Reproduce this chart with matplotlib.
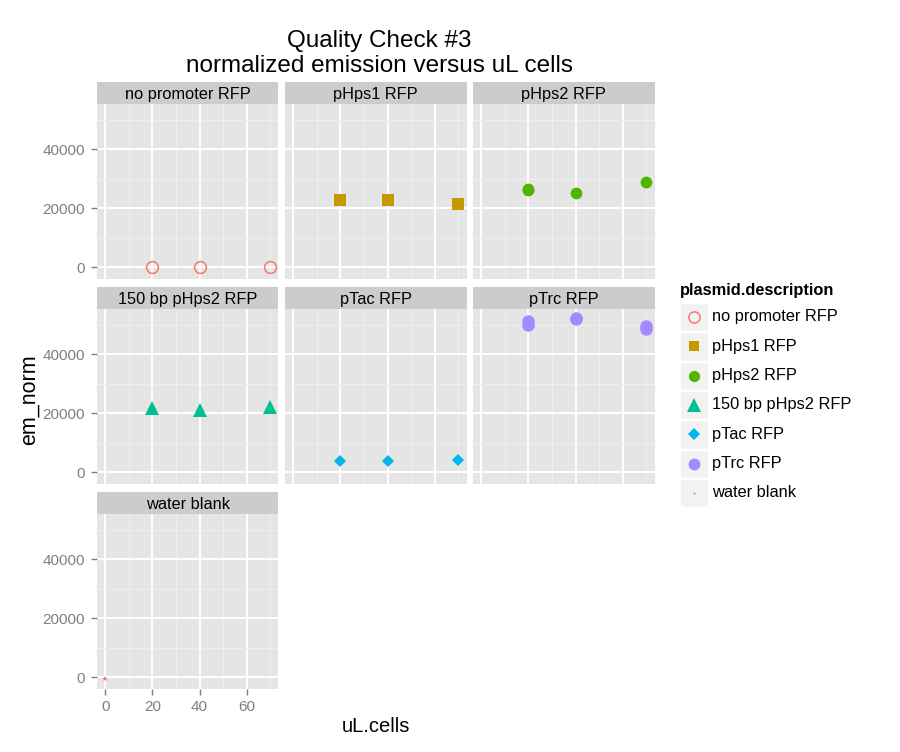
import matplotlib
matplotlib.use("Agg")
import matplotlib.pyplot as plt
from matplotlib.patches import Rectangle

plt.rcParams['font.family'] = ['Liberation Sans', 'DejaVu Sans']

# data
panels = ["no promoter RFP", "pHps1 RFP", "pHps2 RFP", "150 bp pHps2 RFP",
          "pTac RFP", "pTrc RFP", "water blank"]
colors = ["#F8766D", "#C49A00", "#53B400", "#00C094", "#00B6EB", "#A58AFF", "#FB61D7"]
markers = ["o", "s", "o", "^", "D", "o", "*"]
filled = [False, True, True, True, True, True, True]
msizes = [8.5, 8, 8.5, 10, 6.5, 9, 4]

ul_cells = {
    "no promoter RFP": [20, 40, 70],
    "pHps1 RFP": [20, 40, 70],
    "pHps2 RFP": [20, 20, 40, 70],
    "150 bp pHps2 RFP": [20, 40, 70],
    "pTac RFP": [20, 40, 70],
    "pTrc RFP": [20, 20, 40, 40, 70, 70],
    "water blank": [0],
}
em_norm = {
    "no promoter RFP": [-100, -100, -50],
    "pHps1 RFP": [22700, 22800, 21400],
    "pHps2 RFP": [26000, 26600, 25100, 28900],
    "150 bp pHps2 RFP": [21600, 21200, 22200],
    "pTac RFP": [3700, 3900, 4100],
    "pTrc RFP": [49800, 51200, 51700, 52300, 48400, 49600],
    "water blank": [-800],
}

x_ticks = [0, 20, 40, 60]
y_ticks = [0, 20000, 40000]
x_lim = (-3.5, 73.5)
y_lim = (-3850, 55250)

W, H = 900, 752
fig = plt.figure(figsize=(W / 100, H / 100), dpi=100)

def fx(px):
    return px / W

def fy(py):
    return 1 - py / H

col_left = [97, 285, 473]
row_top = [104, 309, 514]
pw, ph, sh = 181.5, 174.5, 22

for i, name in enumerate(panels):
    r, c = divmod(i, 3)
    x0, y0 = col_left[c], row_top[r]
    ax = fig.add_axes([fx(x0), fy(y0 + ph), pw / W, ph / H])
    ax.set_facecolor("#E5E5E5")
    for s in ax.spines.values():
        s.set_visible(False)
    ax.set_xticks(x_ticks)
    ax.set_yticks(y_ticks)
    ax.set_xticks([10, 30, 50, 70], minor=True)
    ax.set_yticks([10000, 30000, 50000], minor=True)
    ax.set_xlim(*x_lim)
    ax.set_ylim(*y_lim)
    ax.grid(True, which="major", color="white", lw=1.4)
    ax.grid(True, which="minor", color="#F2F2F2", lw=0.6)
    ax.set_axisbelow(True)
    ax.tick_params(which="minor", length=0)
    ax.tick_params(which="major", length=4.5, width=1, color="#7F7F7F",
                   labelcolor="#7F7F7F", labelsize=11, pad=4)
    if c != 0:
        ax.tick_params(axis="y", left=False, labelleft=False)
    if i != 6:
        ax.tick_params(axis="x", bottom=False, labelbottom=False)

    col = colors[i]
    ax.plot(ul_cells[name], em_norm[name], linestyle="none", marker=markers[i],
            markersize=msizes[i],
            markerfacecolor=col if filled[i] else "none",
            markeredgecolor=col, markeredgewidth=1.1 if not filled[i] else 0,
            clip_on=False, zorder=3)

    # strip
    sax = fig.add_axes([fx(x0), fy(y0), pw / W, sh / H])
    sax.set_facecolor("#CCCCCC")
    sax.set_xticks([])
    sax.set_yticks([])
    for s in sax.spines.values():
        s.set_visible(False)
    sax.text(0.5, 0.45, name, ha="center", va="center", fontsize=11.8,
             transform=sax.transAxes)

# titles
fig.text(fx(379), fy(41), "Quality Check #3", ha="center", va="center", fontsize=17.5)
fig.text(fx(379), fy(66), "normalized emission versus uL cells", ha="center",
         va="center", fontsize=17.5)
fig.text(fx(376), fy(726), "uL.cells", ha="center", va="center", fontsize=14.5)
fig.text(fx(29), fy(400), "em_norm", ha="center", va="center", fontsize=15.5,
         rotation=90)

# legend
lax = fig.add_axes([0, 0, 1, 1], facecolor="none")
lax.set_xlim(0, W)
lax.set_ylim(H, 0)
lax.axis("off")
lax.text(680, 290, "plasmid.description", ha="left", va="center",
         fontsize=11.8, fontweight="bold")
for i, name in enumerate(panels):
    top = 303 + i * 29.3
    lax.add_patch(Rectangle((680, top), 28, 28.3, facecolor="#F2F2F2",
                            edgecolor="white", lw=1))
    col = colors[i]
    ms = msizes[i] if i != 6 else 2.5
    lax.plot([694], [top + 14], marker=markers[i], markersize=ms * 0.95,
             markerfacecolor=col if filled[i] else "none",
             markeredgecolor=col, markeredgewidth=1.1 if not filled[i] else 0,
             linestyle="none")
    lax.text(712, top + 14, name, ha="left", va="center", fontsize=11.8)

fig.savefig("out.png", dpi=100)
